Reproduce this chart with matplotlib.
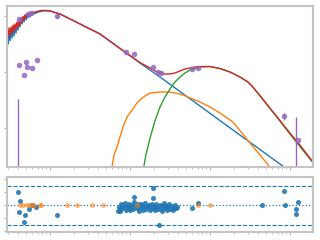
import numpy as np
import matplotlib
matplotlib.use("Agg")
import matplotlib.pyplot as plt

# ---- data (wavelength in micron, flux in arbitrary nuFnu units) ----
spec_wave = np.geomspace(0.29, 0.944, 42)
spec_blue = [13900, 10000, 26800, 12800, 31600, 16400, 40500, 19300, 43900, 24700,
             56200, 31600, 66300, 40500, 78100, 51800, 92100, 61100, 109000, 72000,
             118000, 84900, 123000, 92100, 128000, 109000, 133000, 118000, 139000, 123000,
             145000, 133000, 151000, 139000, 157000, 145000, 157000, 151000, 157000, 151000,
             157000, 151000]
spec_red = [31600, 16400, 37300, 21000, 40500, 24700, 47700, 29100, 51800, 34300,
            61100, 40500, 72000, 47700, 84900, 61100, 96000, 72000, 109000, 84900,
            118000, 100000, 123000, 109000, 128000, 123000, 133000, 133000, 139000, 139000,
            145000, 145000, 151000, 151000, 157000, 157000, 157000, 157000, 157000, 157000,
            157000, 151000]

star_wave = [1.0, 1.155, 1.33, 1.78, 2.37, 3.16, 4.22, 7.5, 13.3, 23.7, 42.2, 75, 133,
             237, 422, 750, 1000]
star_flux = [151000, 133000, 118000, 78100, 51800, 34300, 22800, 6910, 2100, 663, 201,
             61.1, 18.5, 5.62, 1.71, 0.518, 0.291]

total_wave = [1.0, 1.33, 1.78, 2.37, 3.16, 4.22, 7.5, 13.3, 17.8, 20.5, 23.7, 27.4, 31.6,
              36.5, 42.2, 48.7, 56.2, 64.9, 75, 100, 133, 178, 237, 298.5, 335, 422, 562,
              750, 1000, 1334, 1778, 2371]
total_flux = [151000, 118000, 78100, 51800, 34300, 22800, 6910, 2180, 1390, 1090, 921, 849,
              849, 921, 1090, 1280, 1390, 1510, 1570, 1570, 1330, 1000, 663, 439, 316, 145,
              51.8, 18.5, 6.63, 2.47, 0.848, 0.316]

dust_wave = [14.5, 15.8, 17.8, 20.5, 23.7, 27.4, 31.6, 36.5, 42.2, 48.7, 56.2, 75, 100, 133,
             178, 237, 298.5, 335, 422, 562, 750, 1000, 1334, 1778, 2371]
dust_flux = [0.268, 1.09, 4.39, 17.8, 56.2, 128, 247, 439, 663, 921, 1180, 1510, 1570, 1330,
             1000, 663, 439, 316, 139, 49.7, 17.8, 6.11, 2.18, 0.781, 0.291]

warm_wave = [5.62, 5.96, 6.31, 6.88, 7.5, 8.18, 9.17, 10.6, 12.2, 13.3, 15.4, 17.8, 23.7,
             31.6, 42.2, 51.6, 75, 100, 133, 194, 237, 316, 422, 562, 649]
warm_flux = [0.164, 0.405, 1.09, 2.1, 4.77, 10.9, 24.7, 44, 78.1, 100, 139, 178, 193, 193,
             164, 133, 84.8, 56.2, 34.3, 16.4, 8.14, 2.91, 1.09, 0.405, 0.247]

phot_wave = [0.41, 0.531, 0.579, 1.22, 0.41, 0.50, 0.688, 0.516, 0.596, 0.473, 8.91, 11.2,
             19.4, 22.4, 24.4, 59.6, 70.8, 841, 1259]
phot_flux = [78100, 118000, 128000, 100000, 1780, 2280, 2680, 1510, 1390, 781, 5180, 4390,
             1510, 1000, 921, 1280, 1390, 26.8, 3.73]
phot_err = [0, 0, 0, 18000, 0, 0, 0, 0, 0, 0, 0, 0, 0, 0, 0, 0, 0, 7, 0]

ul_wave = [0.398, 1189]
ul_top = [109, 24.7]
ul_bottom = [0.1, 0.1]

res_wave = [0.398, 0.422, 0.41, 0.487, 0.473, 0.546, 0.596, 0.668, 1.22, 7.5, 11.2, 19.4,
            19.4, 23.1, 59.6, 70.8, 447, 841, 866, 1259, 1189, 1189]
res_val = [2.0, 0.6, -1.1, -1.5, -2.6, -0.6, 0.0, -0.3, -1.5, -0.9, 1.2, 2.6, 1.1, -3.1,
           -0.5, 0.3, 0.0, 2.2, 0.0, 0.5, -0.6, -1.4]

spec_res_wave = np.geomspace(7.1, 38.7, 55)
spec_res_val = [-0.9, -0.3, -0.6, 0.1, -0.5, -0.2, 0.3, -0.7, -0.1, -0.4, 0.2, -0.8, -0.3,
                0.0, -0.6, 0.4, -0.2, -0.5, 0.1, -0.9, -0.4, 0.2, -0.1, -0.7, -0.3, 0.3,
                -0.6, -0.2, 0.0, -0.8, -0.4, 0.1, -0.5, -0.1, -0.7, 0.2, -0.3, -0.6, 0.0,
                -0.4, -0.9, -0.2, 0.3, -0.5, -0.1, -0.7, -0.3, 0.1, -0.6, -0.2, -0.8, -0.4,
                0.0, -0.5, -0.3]

flag_wave = [0.42, 0.46, 0.516, 0.546, 0.596, 0.631, 0.75, 0.772, 1.63, 2.17, 3.35, 4.6,
             12.2, 70.8, 100]
flag_val = [0.0] * len(flag_wave)

# ---- figure ----
fig = plt.figure(figsize=(3.2, 2.4), dpi=100)
ax = fig.add_axes([0.022, 0.304, 0.956, 0.671])
axr = fig.add_axes([0.022, 0.033, 0.956, 0.229])

lw = 1.0
ax.plot(np.concatenate([spec_wave, star_wave]), np.concatenate([spec_blue, star_flux]),
        color="#1f77b4", lw=lw)
ax.plot(warm_wave, warm_flux, color="#ff7f0e", lw=lw)
ax.plot(dust_wave, dust_flux, color="#2ca02c", lw=lw)
ax.plot(np.concatenate([spec_wave, total_wave]), np.concatenate([spec_red, total_flux]),
        color="#d62728", lw=lw)
ax.vlines(ul_wave, ul_bottom, ul_top, color="#9467bd", lw=1.0)
ax.errorbar(phot_wave, phot_flux, yerr=phot_err, fmt="o", color="#9467bd", ms=4,
            alpha=0.85, elinewidth=1.0, capsize=0, mec="none")

ax.set_xscale("log")
ax.set_yscale("log")
ax.set_xlim(0.29, 1940)
ax.set_ylim(0.405, 227000)

axr.axhline(0, color="#1f77b4", ls=":", lw=0.9)
axr.axhline(3, color="#1f77b4", ls="--", lw=0.8)
axr.axhline(-3, color="#1f77b4", ls="--", lw=0.8)
axr.scatter(res_wave, res_val, s=13, color="#1f77b4", alpha=0.9, linewidths=0, zorder=3)
axr.scatter(spec_res_wave, spec_res_val, s=13, color="#1f77b4", alpha=0.9, linewidths=0,
            zorder=3)
axr.scatter(flag_wave, flag_val, s=13, color="#ff7f0e", alpha=0.55, linewidths=0, zorder=4)
axr.set_xscale("log")
axr.set_xlim(0.29, 1940)
axr.set_ylim(-4.15, 4.3)
axr.set_yticks([-4, -2, 0, 2, 4])

for a in (ax, axr):
    for s in a.spines.values():
        s.set_color("#c4c4c4")
        s.set_linewidth(1.5)
    a.tick_params(which="major", length=2.5, width=0.8, color="#b5b5b5",
                  labelbottom=False, labelleft=False)
    a.tick_params(which="minor", length=1.5, width=0.6, color="#b5b5b5")
    a.yaxis.set_minor_locator(matplotlib.ticker.NullLocator())

fig.savefig("out.png", dpi=100)
